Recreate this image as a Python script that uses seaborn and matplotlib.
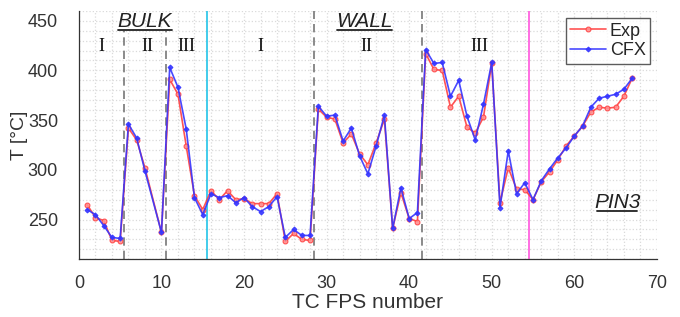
import pandas as pd
import seaborn as sns
import matplotlib.pyplot as plt
from matplotlib.ticker import MultipleLocator

# TC numbers (no TC 9 in the data)
tc = [1, 2, 3, 4, 5, 6, 7, 8, 10, 11, 12, 13, 14, 15, 16, 17, 18, 19, 20,
      21, 22, 23, 24, 25, 26, 27, 28, 29, 30, 31, 32, 33, 34, 35, 36, 37, 38,
      39, 40, 41, 42, 43, 44, 45, 46, 47, 48, 49, 50, 51, 52, 53, 54, 55, 56,
      57, 58, 59, 60, 61, 62, 63, 64, 65, 66, 67]

exp_T = [265, 252, 249, 229, 228, 342, 330, 302, 237, 391, 376, 324, 274, 260,
         279, 270, 279, 270, 271, 266, 266, 266, 276, 228, 236, 230, 229, 361,
         353, 351, 327, 336, 316, 305, 327, 351, 241, 277, 251, 248, 417, 401,
         400, 363, 374, 343, 337, 353, 407, 267, 302, 281, 280, 270, 288, 298,
         310, 324, 334, 344, 358, 363, 362, 363, 374, 392]

cfx_T = [260, 255, 244, 232, 231, 346, 332, 299, 237, 403, 383, 341, 272, 255,
         276, 272, 274, 267, 272, 263, 258, 263, 273, 232, 240, 234, 234, 364,
         354, 355, 329, 342, 314, 296, 324, 355, 241, 282, 251, 257, 421, 407,
         408, 374, 390, 354, 330, 366, 408, 262, 319, 276, 287, 270, 289, 301,
         312, 322, 334, 344, 363, 372, 374, 376, 381, 392]

# zone boundaries
dashed_x = [5.5, 10.5, 28.5, 41.5]
cyan_x = 15.5
magenta_x = 54.5

df = pd.DataFrame({
    "TC": tc * 2,
    "T": exp_T + cfx_T,
    "series": ["Exp"] * len(tc) + ["CFX"] * len(tc),
})

sns.set_style("white")
plt.rcParams["font.family"] = ["Liberation Sans", "DejaVu Sans"]

fig, ax = plt.subplots(figsize=(6.8, 3.17), dpi=100)
fig.subplots_adjust(left=0.116, right=0.966, bottom=0.182, top=0.966)

# zone lines
for i, xv in enumerate(dashed_x):
    top = 440 if i < 2 else 460
    ax.plot([xv, xv], [210, top], color="#777777", ls=(0, (5, 3)), lw=1.2, zorder=1)
ax.axvline(cyan_x, color="#22c4e8", lw=1.2, zorder=1)
ax.axvline(magenta_x, color="#ff55dd", lw=1.2, zorder=1)

sns.lineplot(data=df[df.series == "Exp"], x="TC", y="T", ax=ax, color="#ff4040",
             marker="o", markersize=3.5, markerfacecolor="#ff9090",
             markeredgecolor="#ff4040", lw=1.2, label="Exp", alpha=0.9)
sns.lineplot(data=df[df.series == "CFX"], x="TC", y="T", ax=ax, color="#3535ff",
             marker="D", markersize=2.5, markeredgecolor="#3535ff",
             lw=1.2, label="CFX", alpha=0.9)

ax.set_xlim(0, 70)
ax.set_ylim(210, 460)
ax.xaxis.set_major_locator(MultipleLocator(10))
ax.xaxis.set_minor_locator(MultipleLocator(2))
ax.yaxis.set_major_locator(MultipleLocator(50))
ax.yaxis.set_minor_locator(MultipleLocator(10))
ax.set_yticks([250, 300, 350, 400, 450])
ax.grid(which="both", color="#dadada", ls=":", lw=0.9)
ax.tick_params(which="major", direction="in", length=5, width=0.8,
               labelsize=13, color="#333333", labelcolor="#333333")
ax.tick_params(axis="x", which="major", pad=11)
ax.tick_params(axis="y", which="major", pad=15)
ax.tick_params(which="minor", length=0)
for s in ["top", "right"]:
    ax.spines[s].set_visible(False)
for s in ["left", "bottom"]:
    ax.spines[s].set_color("#333333")
    ax.spines[s].set_linewidth(0.9)

ax.set_xlabel("TC FPS number", fontsize=15, color="#333333", labelpad=1)
ax.set_ylabel("T [°C]", fontsize=14, color="#333333", labelpad=0)

# zone labels
for txt, xv in [("BULK", 8), ("WALL", 34.6)]:
    ax.text(xv, 449, txt, fontsize=15, style="italic", ha="center", va="center",
            color="#222222")
    ax.plot([xv - 3.3, xv + 3.3], [440.5, 440.5], color="#222222", lw=1.3)
ax.text(65.2, 267, "PIN3", fontsize=15, style="italic", ha="center", va="center",
        color="#222222")
ax.plot([62.8, 67.6], [258.5, 258.5], color="#222222", lw=1.3)

for txt, xv in [("I", 2.7), ("II", 8.3), ("III", 13), ("I", 22), ("II", 34.8), ("III", 48.5)]:
    ax.text(xv, 424, txt, fontsize=13, ha="center", va="center",
            family=["Liberation Serif", "DejaVu Serif"], color="#111111")

leg = ax.legend(loc="upper right", bbox_to_anchor=(0.995, 0.985), fontsize=13,
                frameon=True, fancybox=False, edgecolor="#333333",
                handlelength=2.0, handletextpad=0.2, borderpad=0.25,
                labelspacing=0.15, borderaxespad=0.2)
leg.get_frame().set_linewidth(1.0)

fig.savefig("out.png", dpi=100)
